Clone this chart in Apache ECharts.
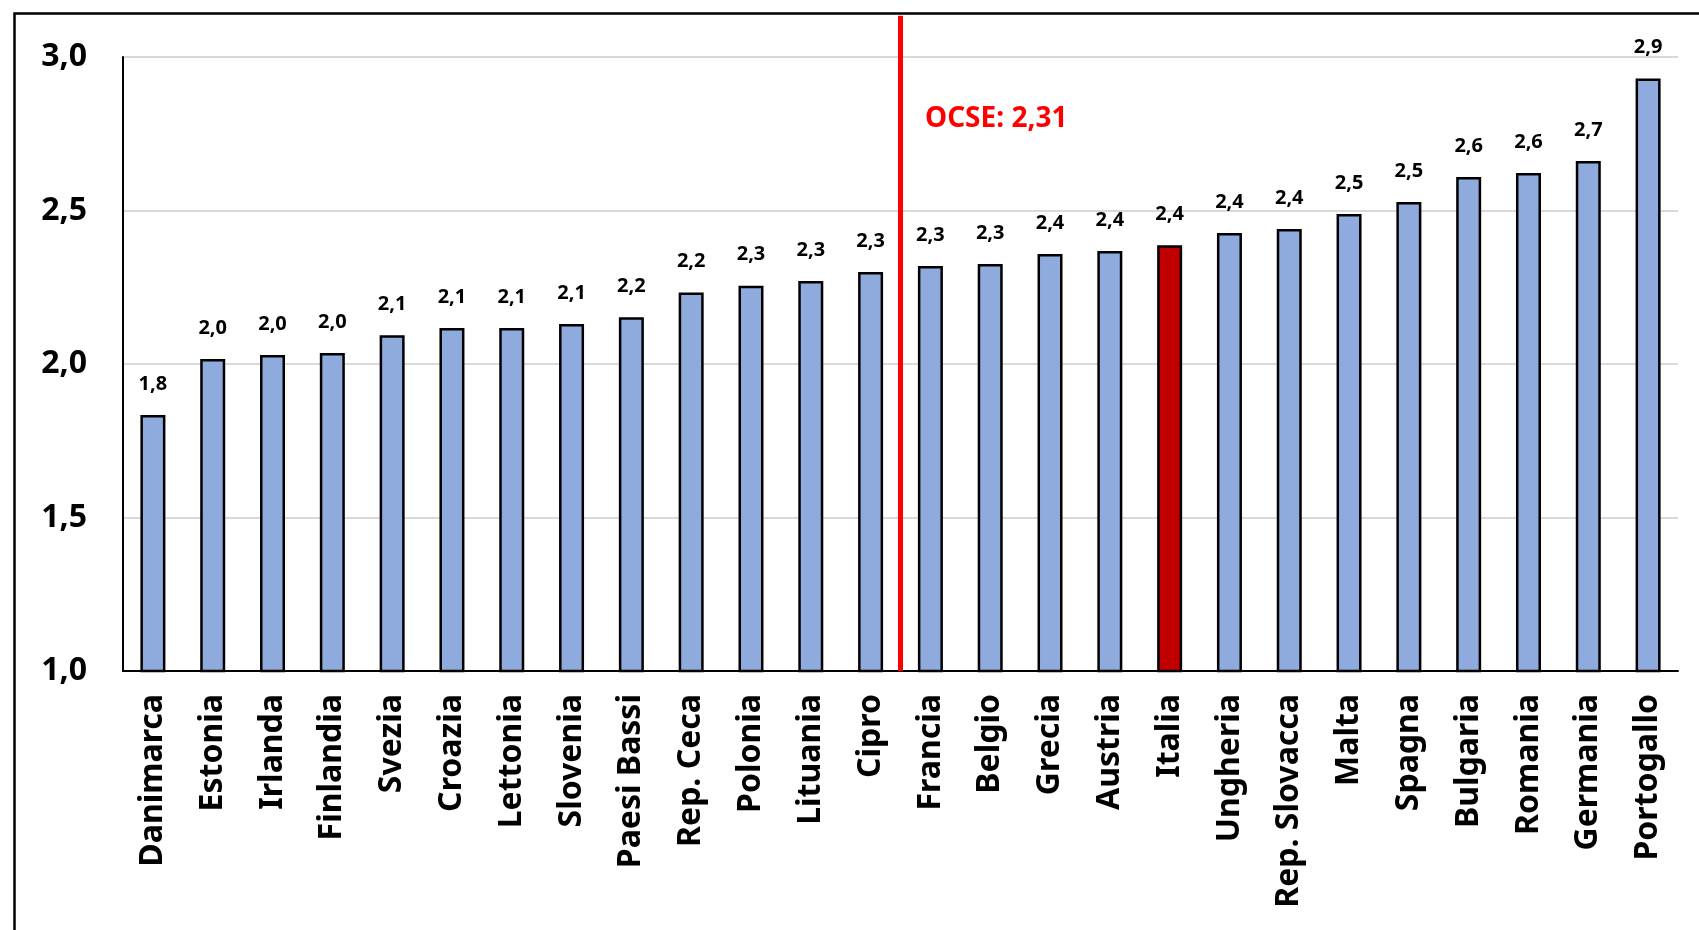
<!DOCTYPE html>
<html>
<head>
<meta charset="utf-8">
<script src="https://cdn.jsdelivr.net/npm/echarts@6/dist/echarts.min.js"></script>
<style>
  html, body { margin: 0; padding: 0; background: #ffffff; }
  #chart { width: 1699px; height: 930px; }
</style>
</head>
<body>
<div id="chart"></div>
<script>
const categories = ['Danimarca', 'Estonia', 'Irlanda', 'Finlandia', 'Svezia', 'Croazia', 'Lettonia', 'Slovenia', 'Paesi Bassi', 'Rep. Ceca', 'Polonia', 'Lituania', 'Cipro', 'Francia', 'Belgio', 'Grecia', 'Austria', 'Italia', 'Ungheria', 'Rep. Slovacca', 'Malta', 'Spagna', 'Bulgaria', 'Romania', 'Germania', 'Portogallo'];
const values = [1.834, 2.016, 2.029, 2.036, 2.094, 2.117, 2.117, 2.13, 2.152, 2.233, 2.255, 2.27, 2.30, 2.319, 2.326, 2.358, 2.368, 2.387, 2.427, 2.44, 2.489, 2.528, 2.609, 2.622, 2.661, 2.93];
const highlighted = 'Italia';
const oecdValue = 2.31;
const oecdSlot = 12.5;          // between Cipro and Francia
const oecdLineExtent = [1.0, 3.134];
const yMin = 1.0, yMax = 3.0, yStep = 0.5;

const fmt = v => v.toFixed(1).replace('.', ',');
const FONT = '"Noto Sans", "Open Sans", sans-serif';

const chart = echarts.init(document.getElementById('chart'), null, { renderer: 'canvas' });

const barData = values.map((v, i) => categories[i] === highlighted
  ? { value: v, itemStyle: { color: '#C00000' } }
  : v);

chart.setOption({
  animation: false,
  backgroundColor: '#ffffff',
  grid: { left: 123, right: 21, top: 57, bottom: 259, containLabel: false },
  xAxis: [
    {
      type: 'category',
      data: categories,
      axisTick: { show: false },
      axisLine: { lineStyle: { color: '#000000', width: 2 } },
      axisLabel: {
        rotate: 90,
        interval: 0,
        margin: 23,
        color: '#000000',
        fontFamily: FONT,
        fontWeight: 'bold',
        fontSize: 32
      },
      splitLine: { show: false }
    },
    {
      type: 'value',
      min: -0.5,
      max: categories.length - 0.5,
      show: false
    }
  ],
  yAxis: {
    type: 'value',
    min: yMin,
    max: yMax,
    interval: yStep,
    axisLine: { show: true, onZero: false, lineStyle: { color: '#000000', width: 2 } },
    axisTick: { show: false },
    axisLabel: {
      margin: 36,
      color: '#000000',
      fontFamily: FONT,
      fontWeight: 'bold',
      fontSize: 32,
      formatter: v => fmt(v)
    },
    splitLine: { lineStyle: { color: '#D9D9D9', width: 2 } }
  },
  series: [
    {
      type: 'bar',
      xAxisIndex: 0,
      data: barData,
      barWidth: 25,
      itemStyle: { color: '#8FAADC', borderColor: '#000000', borderWidth: 2.5 },
      label: {
        show: true,
        position: 'top',
        distance: 21,
        color: '#000000',
        fontFamily: FONT,
        fontWeight: 'bold',
        fontSize: 20,
        formatter: p => fmt(p.value)
      }
    },
    {
      type: 'line',
      xAxisIndex: 1,
      clip: false,
      symbol: 'none',
      silent: true,
      z: 5,
      data: oecdLineExtent.map(y => [oecdSlot, y]),
      lineStyle: { color: '#FF0000', width: 5 }
    }
  ],
  graphic: [
    {
      type: 'rect',
      left: 12, top: 11,
      shape: { width: 1710, height: 940 },
      style: { fill: 'none', stroke: '#000000', lineWidth: 2.5 },
      silent: true
    },
    {
      type: 'text',
      x: 925, y: 119,
      style: {
        text: 'OCSE: ' + oecdValue.toFixed(2).replace('.', ','),
        fill: '#FF0000',
        font: 'bold 28px ' + FONT,
        verticalAlign: 'middle'
      },
      silent: true
    }
  ]
});
</script>
</body>
</html>
